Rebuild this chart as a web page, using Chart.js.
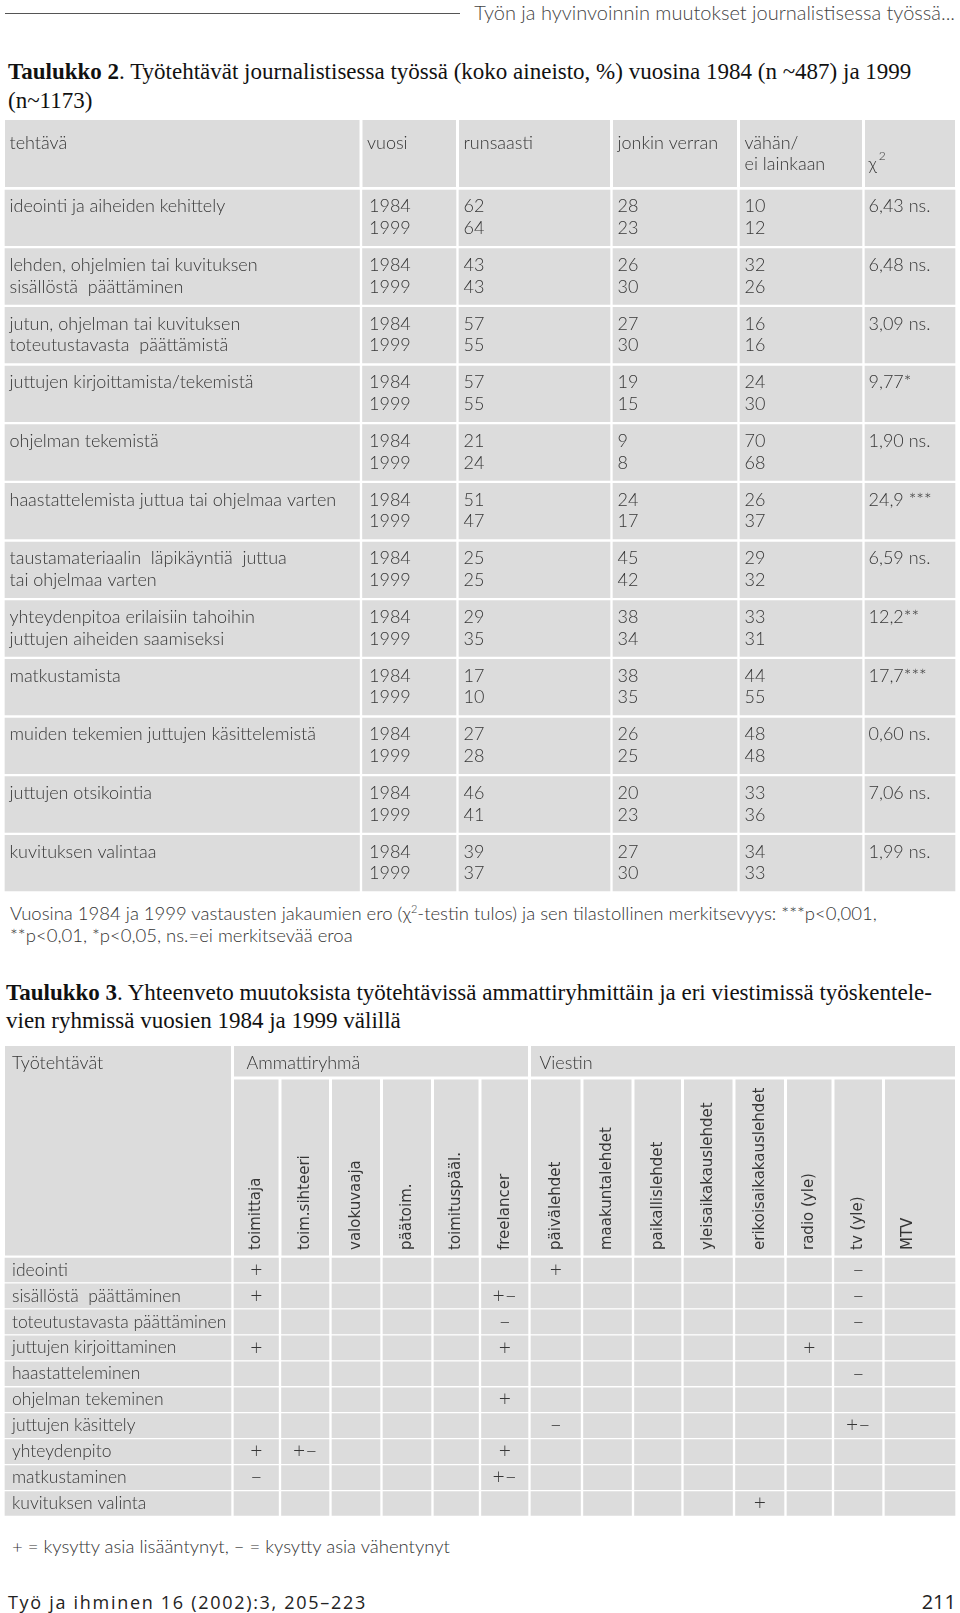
<!DOCTYPE html>
<html lang="fi">
<head>
<meta charset="utf-8">
<title>Taulukot 2 ja 3</title>
<script src="https://cdn.jsdelivr.net/npm/chart.js@4.4.1/dist/chart.umd.min.js"></script>
<style>
  html, body { margin: 0; padding: 0; background: #fff; }
  #page { position: relative; width: 960px; height: 1613px; overflow: hidden; color: #333; font-family: Lato, 'Noto Sans', sans-serif; }
  .txt { position: absolute; white-space: nowrap; }
  .rule { position: absolute; left: 5px; top: 13px; width: 455px; border-top: 1px solid #555; }
  .runhead { right: 5px; top: 0px; font-size: 20px; font-weight: 300; line-height: 24px; color: #444; }
  .caption { left: 8px; font-family: 'Liberation Serif', serif; font-size: 23px; line-height: 28px; color: #111; }
  .note { left: 10px; font-size: 18.5px; font-weight: 300; line-height: 22px; }
  .note sup { font-size: 11px; line-height: 0; }
  .foot { font-family: 'Open Sans', sans-serif; font-size: 18px; line-height: 22px; color: #222; }
  canvas { position: absolute; left: 0; }
</style>
</head>
<body>
<div id="page">
  <div class="rule"></div>
  <div class="txt runhead">Työn ja hyvinvoinnin muutokset journalistisessa työssä...</div>

  <div class="txt caption" style="top:58px"><b>Taulukko 2</b>. Työtehtävät journalistisessa työssä (koko aineisto, %) vuosina 1984 (n ~487) ja 1999</div>
  <div class="txt caption" style="top:87px">(n~1173)</div>

  <canvas id="table2" width="960" height="775" style="top:118px"></canvas>

  <div class="txt note" style="top:902px">Vuosina 1984 ja 1999 vastausten jakaumien ero (χ<sup>2</sup>-testin tulos) ja sen tilastollinen merkitsevyys: ***p&lt;0,001,</div>
  <div class="txt note" style="top:924px">**p&lt;0,01, *p&lt;0,05, ns.=ei merkitsevää eroa</div>

  <div class="txt caption" style="top:979px; left:6px"><b>Taulukko 3</b>. Yhteenveto muutoksista työtehtävissä ammattiryhmittäin ja eri viestimissä työskentele-</div>
  <div class="txt caption" style="top:1007px; left:6px">vien ryhmissä vuosien 1984 ja 1999 välillä</div>

  <canvas id="table3" width="960" height="474" style="top:1044px"></canvas>

  <div class="txt note" style="top:1535px; left:12px">+ = kysytty asia lisääntynyt, – = kysytty asia vähentynyt</div>

  <div class="txt foot" style="top:1591px; left:8px; letter-spacing:1.7px">Työ ja ihminen 16 (2002):3, 205–223</div>
  <div class="txt foot" style="top:1591px; right:4px; font-size:20px">211</div>
</div>

<script>
// Taulukko 2: työtehtävät 1984 ja 1999 (%)
const tasks2 = [
  ['ideointi ja aiheiden kehittely'],
  ['lehden, ohjelmien tai kuvituksen', 'sisällöstä  päättäminen'],
  ['jutun, ohjelman tai kuvituksen', 'toteutustavasta  päättämistä'],
  ['juttujen kirjoittamista/tekemistä'],
  ['ohjelman tekemistä'],
  ['haastattelemista juttua tai ohjelmaa varten'],
  ['taustamateriaalin  läpikäyntiä  juttua', 'tai ohjelmaa varten'],
  ['yhteydenpitoa erilaisiin tahoihin', 'juttujen aiheiden saamiseksi'],
  ['matkustamista'],
  ['muiden tekemien juttujen käsittelemistä'],
  ['juttujen otsikointia'],
  ['kuvituksen valintaa']
];
const years = ['1984', '1999'];
const runsaasti1984 = [62, 43, 57, 57, 21, 51, 25, 29, 17, 27, 46, 39];
const runsaasti1999 = [64, 43, 55, 55, 24, 47, 25, 35, 10, 28, 41, 37];
const jonkin1984 = [28, 26, 27, 19, 9, 24, 45, 38, 38, 26, 20, 27];
const jonkin1999 = [23, 30, 30, 15, 8, 17, 42, 34, 35, 25, 23, 30];
const vahan1984 = [10, 32, 16, 24, 70, 26, 29, 33, 44, 48, 33, 34];
const vahan1999 = [12, 26, 16, 30, 68, 37, 32, 31, 55, 48, 36, 33];
const chi2 = ['6,43 ns.', '6,48 ns.', '3,09 ns.', '9,77*', '1,90 ns.', '24,9 ***',
  '6,59 ns.', '12,2**', '17,7***', '0,60 ns.', '7,06 ns.', '1,99 ns.'];
const header2 = [['tehtävä'], ['vuosi'], ['runsaasti'], ['jonkin verran'], ['vähän/', 'ei lainkaan'], ['']];

// Taulukko 3: muutokset ammattiryhmittäin ja viestimittäin
const tasks3 = ['ideointi', 'sisällöstä  päättäminen', 'toteutustavasta päättäminen', 'juttujen kirjoittaminen',
  'haastatteleminen', 'ohjelman tekeminen', 'juttujen käsittely', 'yhteydenpito', 'matkustaminen', 'kuvituksen valinta'];
const ammattiryhma = ['toimittaja', 'toim.sihteeri', 'valokuvaaja', 'päätoim.', 'toimituspääl.', 'freelancer'];
const viestin = ['päivälehdet', 'maakuntalehdet', 'paikallislehdet', 'yleisaikakauslehdet',
  'erikoisaikakauslehdet', 'radio (yle)', 'tv (yle)', 'MTV'];
// one row per task, one entry per group (ammattiryhmä then viestin)
const changes3 = [
  ['+', '', '', '', '', '', '+', '', '', '', '', '', '–', ''],
  ['+', '', '', '', '', '+–', '', '', '', '', '', '', '–', ''],
  ['', '', '', '', '', '–', '', '', '', '', '', '', '–', ''],
  ['+', '', '', '', '', '+', '', '', '', '', '', '+', '', ''],
  ['', '', '', '', '', '', '', '', '', '', '', '', '–', ''],
  ['', '', '', '', '', '+', '', '', '', '', '', '', '', ''],
  ['', '', '', '', '', '', '–', '', '', '', '', '', '+–', ''],
  ['+', '+–', '', '', '', '+', '', '', '', '', '', '', '', ''],
  ['–', '', '', '', '', '+–', '', '', '', '', '', '', '', ''],
  ['', '', '', '', '', '', '', '', '', '', '+', '', '', '']
];

// look
const CELL = '#dcdcdc';
const INK = '#363636';
const FONT = '300 18px Lato, "Noto Sans", sans-serif';
const FONT3 = '300 17.5px Lato, "Noto Sans", sans-serif';
const MARK_FONT = '300 21px Lato, "Noto Sans", sans-serif';
const ROT_FONT = '15px "DejaVu Sans", sans-serif';
const colWidths2 = [357.5, 96.5, 154, 127, 125, 93];
const colWidths3 = [229, 47.5, 50.5, 51, 51, 47.5, 49.5, 52.5, 51, 49.5, 51.5, 51.5, 47.5, 50.5, 73];

function cellDatasets(widths, rows, border) {
  return widths.map(w => ({
    data: rows.map(() => w),
    backgroundColor: CELL,
    borderColor: '#fff',
    borderWidth: border,
    borderSkipped: false,
    categoryPercentage: 1,
    barPercentage: 1
  }));
}

function colSpan(chart, i) {
  const el = chart.getDatasetMeta(i).data[0];
  return { left: Math.min(el.base, el.x), right: Math.max(el.base, el.x) };
}

function fillCell(ctx, left, right, top, bottom) {
  ctx.fillStyle = CELL;
  ctx.fillRect(left + 1.5, top + 1.5, right - left - 3, bottom - top - 3);
}

function text(ctx, str, x, y, align) {
  ctx.textAlign = align || 'left';
  ctx.fillText(String(str), x, y);
}

const table2Plugin = {
  id: 'table2Plugin',
  beforeDatasetsDraw(chart) {
    const ctx = chart.ctx;
    const top = 0.5, bottom = chart.chartArea.top;
    colWidths2.forEach((w, i) => {
      const c = colSpan(chart, i);
      fillCell(ctx, c.left, c.right, top, bottom);
    });
  },
  afterDatasetsDraw(chart) {
    const ctx = chart.ctx;
    ctx.save();
    ctx.font = FONT;
    ctx.fillStyle = INK;
    ctx.textBaseline = 'middle';
    const hMid = (0.5 + chart.chartArea.top) / 2;
    const gap = 10.8;
    // header
    header2.forEach((lines, i) => {
      const c = colSpan(chart, i);
      lines.forEach((s, k) => text(ctx, s, c.left + 6, hMid - gap + k * 2 * gap));
    });
    const cx = colSpan(chart, 5).left + 5;
    text(ctx, 'χ', cx, hMid + gap);
    const wChi = ctx.measureText('χ').width;
    ctx.font = '300 12px Lato, sans-serif';
    text(ctx, '2', cx + wChi + 2, hMid + gap - 8);
    ctx.font = FONT;
    // body
    const cols = [null, null, [runsaasti1984, runsaasti1999], [jonkin1984, jonkin1999], [vahan1984, vahan1999]];
    tasks2.forEach((task, j) => {
      for (let i = 0; i < colWidths2.length; i++) {
        const el = chart.getDatasetMeta(i).data[j];
        const left = Math.min(el.base, el.x) + 6;
        const y1 = el.y - gap - 0.5, y2 = el.y + gap - 0.5;
        if (i === 0) task.forEach((s, k) => text(ctx, s, left, k ? y2 : y1));
        else if (i === 1) { text(ctx, years[0], left + 2, y1); text(ctx, years[1], left + 2, y2); }
        else if (i === 5) text(ctx, chi2[j], left - 1, y1);
        else { text(ctx, cols[i][0][j], left, y1); text(ctx, cols[i][1][j], left, y2); }
      }
    });
    ctx.restore();
  }
};

const table3Plugin = {
  id: 'table3Plugin',
  beforeDatasetsDraw(chart) {
    const ctx = chart.ctx;
    const top = 0.5, mid = 34, bottom = chart.chartArea.top;
    const first = colSpan(chart, 0);
    fillCell(ctx, first.left, first.right, top, bottom);
    const amStart = colSpan(chart, 1).left, amEnd = colSpan(chart, ammattiryhma.length).right;
    const viEnd = colSpan(chart, colWidths3.length - 1).right;
    fillCell(ctx, amStart, amEnd, top, mid);
    fillCell(ctx, amEnd, viEnd, top, mid);
    for (let i = 1; i < colWidths3.length; i++) {
      const c = colSpan(chart, i);
      fillCell(ctx, c.left, c.right, mid, bottom);
    }
  },
  afterDatasetsDraw(chart) {
    const ctx = chart.ctx;
    ctx.save();
    ctx.font = FONT;
    ctx.fillStyle = INK;
    ctx.textBaseline = 'middle';
    text(ctx, 'Työtehtävät', colSpan(chart, 0).left + 8.5, 19);
    text(ctx, 'Ammattiryhmä', colSpan(chart, 1).left + 14, 19);
    text(ctx, 'Viestin', colSpan(chart, ammattiryhma.length + 1).left + 10, 19);
    // rotated group labels
    const groups = ammattiryhma.concat(viestin);
    ctx.font = ROT_FONT;
    groups.forEach((g, k) => {
      const c = colSpan(chart, k + 1);
      ctx.save();
      ctx.translate((c.left + c.right) / 2 - (k === groups.length - 1 ? 12 : 0), chart.chartArea.top - 7);
      ctx.rotate(-Math.PI / 2);
      text(ctx, g, 0, 0);
      ctx.restore();
    });
    // body
    tasks3.forEach((task, j) => {
      const el0 = chart.getDatasetMeta(0).data[j];
      ctx.font = FONT3;
      text(ctx, task, Math.min(el0.base, el0.x) + 8.5, el0.y);
      ctx.font = MARK_FONT;
      changes3[j].forEach((mark, k) => {
        if (!mark) return;
        const el = chart.getDatasetMeta(k + 1).data[j];
        text(ctx, mark, (el.base + el.x) / 2, el.y, 'center');
      });
    });
    ctx.restore();
  }
};

function tableChart(id, labels, widths, border, padding, plugin) {
  return new Chart(document.getElementById(id), {
    type: 'bar',
    data: { labels: labels, datasets: cellDatasets(widths, labels, border) },
    options: {
      indexAxis: 'y',
      responsive: false,
      animation: false,
      events: [],
      layout: { padding: padding },
      plugins: { legend: { display: false }, tooltip: { enabled: false } },
      scales: {
        x: { type: 'linear', stacked: true, display: false, min: 0, max: widths.reduce((a, b) => a + b, 0) },
        y: { type: 'category', stacked: true, display: false }
      }
    },
    plugins: [plugin]
  });
}

tableChart('table2', tasks2.map(t => t.join(' ')), colWidths2, 1.5,
  { top: 70.5, bottom: 0.5, left: 3.5, right: 3.5 }, table2Plugin);
tableChart('table3', tasks3, colWidths3, { top: 1, bottom: 1, left: 1.5, right: 1.5 },
  { top: 213, bottom: 1.5, left: 3.5, right: 3.5 }, table3Plugin);
</script>
</body>
</html>
